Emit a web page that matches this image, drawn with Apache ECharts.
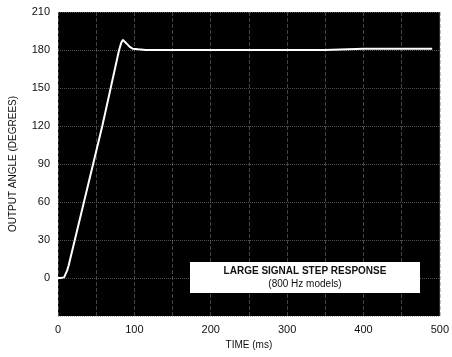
<!DOCTYPE html>
<html>
<head>
<meta charset="utf-8">
<script src="https://cdn.jsdelivr.net/npm/echarts@6/dist/echarts.min.js"></script>
<style>html,body{margin:0;padding:0;background:#fff;}#c{width:452px;height:357px;}</style>
</head>
<body>
<div id="c"></div>
<script>
var timeMs = [0, 3, 8, 10, 12, 14, 22, 34, 46, 58, 69, 80, 83, 85, 87, 90, 94, 98, 105, 115, 130, 160, 200, 250, 300, 350, 400, 450, 490];
var angleDeg = [0, 0, 0.5, 2, 6, 10, 30, 60, 90, 120, 150, 180, 186, 188, 187, 185, 182.5, 181, 180.5, 180, 180, 180, 180, 180, 180, 180, 181, 181, 181];
var yTicks = [0, 30, 60, 90, 120, 150, 180, 210];
var xTicks = [0, 100, 200, 300, 400, 500];
var titleLines = ['LARGE SIGNAL STEP RESPONSE', '(800 Hz models)'];

var pts = timeMs.map(function (t, i) { return [t, angleDeg[i]]; });
var font = 'Liberation Sans, Arial, Helvetica, sans-serif';
var chart = echarts.init(document.getElementById('c'));
chart.setOption({
  backgroundColor: '#fff',
  animation: false,
  grid: { left: 58, right: 7, top: 12, bottom: 41, show: true, backgroundColor: '#000', borderWidth: 0 },
  xAxis: {
    type: 'value', min: 0, max: 500, interval: 50,
    name: 'TIME (ms)', nameLocation: 'middle', nameGap: 23,
    nameTextStyle: { color: '#111', fontSize: 10, fontFamily: font },
    axisLine: { show: false }, axisTick: { show: false },
    axisLabel: { color: '#111', fontSize: 11, fontFamily: font, margin: 8,
      formatter: function (v) { return xTicks.indexOf(v) >= 0 ? String(v) : ''; } },
    splitLine: { show: true, lineStyle: { color: '#888', type: 'dashed', width: 1, opacity: 0.5 } }
  },
  yAxis: {
    type: 'value', min: -30, max: 210, interval: 30,
    name: 'OUTPUT ANGLE (DEGREES)', nameLocation: 'middle', nameGap: 40, nameRotate: 90,
    nameTextStyle: { color: '#111', fontSize: 10, fontFamily: font },
    axisLine: { show: false }, axisTick: { show: false },
    axisLabel: { color: '#111', fontSize: 11, fontFamily: font, margin: 8,
      formatter: function (v) { return yTicks.indexOf(v) >= 0 ? String(v) : ''; } },
    splitLine: { show: true, lineStyle: { color: '#888', type: 'dotted', width: 1, opacity: 0.6 } }
  },
  series: [{
    type: 'line', data: pts, showSymbol: false, smooth: false,
    lineStyle: { color: '#fff', width: 2 }
  }],
  graphic: [{
    type: 'group', left: 190, top: 262, z: 100,
    children: [
      { type: 'rect', z: 100, shape: { x: 0, y: 0, width: 230, height: 31 }, style: { fill: '#fff' } },
      { type: 'text', z: 101, x: 115, y: 9, style: { text: titleLines[0], fill: '#111', font: 'bold 10px ' + font, textAlign: 'center', textVerticalAlign: 'middle' } },
      { type: 'text', z: 101, x: 115, y: 22, style: { text: titleLines[1], fill: '#111', font: '10px ' + font, textAlign: 'center', textVerticalAlign: 'middle' } }
    ]
  }]
});
</script>
</body>
</html>
